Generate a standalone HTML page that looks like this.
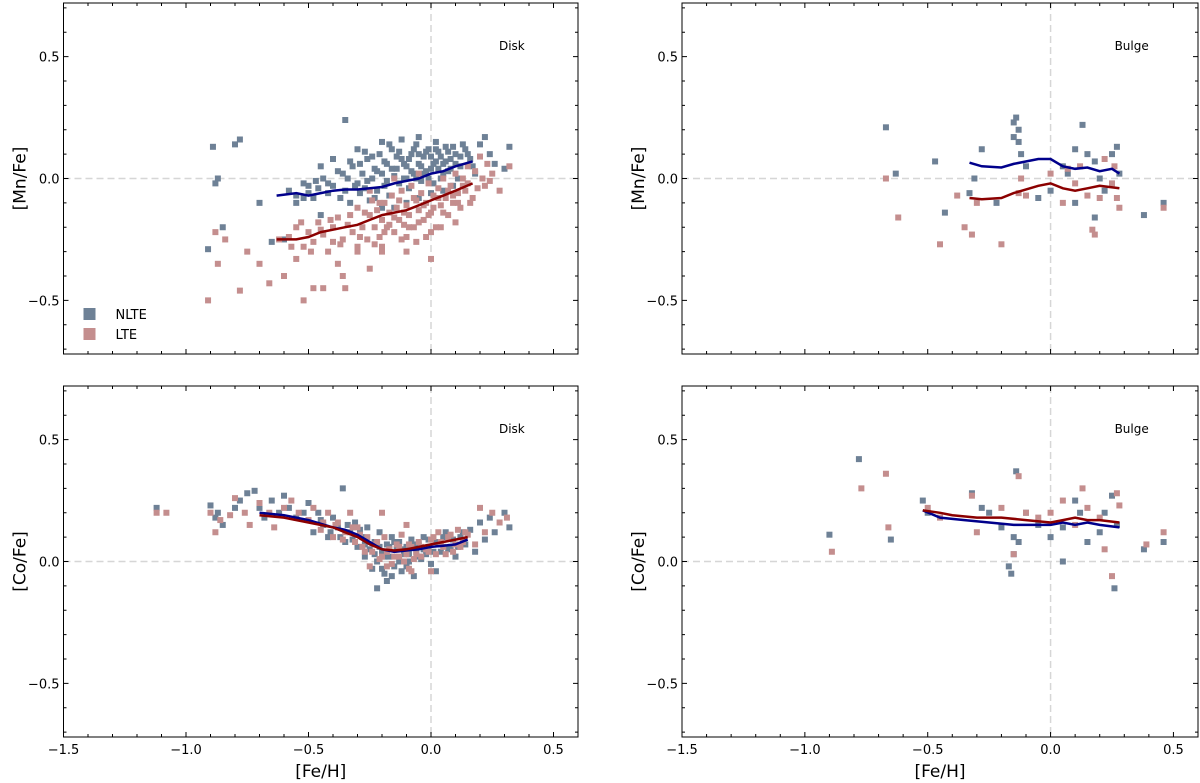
<!DOCTYPE html>
<html><head><meta charset="utf-8"><style>
body{margin:0;background:#fff;}
svg{display:block;font-family:"DejaVu Sans","Liberation Sans",sans-serif;}
</style></head><body>
<svg id="fig" width="1200" height="783" viewBox="0 0 1200 783"></svg>
<script>
// ---- data ----
const mnDiskNLTE=[-0.91,-0.29,-0.89,0.13,-0.88,-0.02,-0.87,0.0,-0.85,-0.2,-0.78,0.16,-0.8,0.14,-0.65,-0.26,-0.7,-0.1,-0.6,-0.25,-0.35,0.24,-0.55,-0.1,-0.5,-0.03,-0.45,-0.15,
-0.58,-0.05,-0.55,-0.07,-0.52,-0.02,-0.5,-0.06,-0.48,-0.08,-0.46,-0.04,-0.44,0.0,-0.42,-0.06,-0.4,-0.03,-0.38,0.03,-0.37,-0.08,-0.35,-0.05,-0.34,0.0,-0.33,-0.1,-0.32,0.05,-0.3,-0.02,-0.29,-0.06,-0.28,0.02,-0.27,-0.04,-0.26,0.08,-0.25,-0.09,-0.24,0.0,-0.23,0.04,-0.22,-0.05,-0.21,0.1,-0.2,0.02,-0.19,-0.03,-0.18,0.06,-0.17,-0.07,-0.16,0.12,-0.15,0.01,-0.14,0.04,-0.13,-0.02,-0.12,0.08,-0.11,0.0,-0.1,0.05,-0.09,-0.04,-0.08,0.1,-0.07,0.02,-0.06,0.14,-0.05,0.06,-0.04,-0.01,-0.03,0.09,-0.02,0.03,-0.01,0.12,0.0,0.04,0.01,-0.02,0.02,0.07,0.03,0.11,0.04,0.0,0.05,0.06,0.06,0.13,0.07,0.03,0.08,0.08,0.09,-0.03,0.1,0.1,0.12,0.05,0.14,0.12,0.16,0.08,0.18,0.02,0.2,0.14,0.22,0.17,0.24,0.1,0.26,0.06,0.3,0.04,0.32,0.13,-0.15,-0.12,-0.1,-0.1,-0.05,-0.08,0.0,-0.06,0.05,-0.05,-0.2,0.15,-0.12,0.16,-0.3,0.12,-0.27,0.11,-0.2,-0.12,-0.05,0.17,0.02,0.15,-0.4,0.08,-0.45,0.05,
-0.29,0.06,-0.26,-0.01,-0.24,0.09,-0.22,0.03,-0.19,0.07,-0.18,-0.01,-0.16,0.04,-0.14,0.09,-0.13,0.11,-0.11,0.06,-0.1,0.0,-0.09,0.08,-0.08,0.03,-0.07,0.12,-0.06,0.0,-0.05,0.1,-0.04,0.05,-0.03,0.02,-0.02,0.11,-0.01,0.0,0.0,0.09,0.01,0.06,0.02,0.12,0.03,0.04,0.04,0.09,0.05,0.02,0.06,0.07,0.07,0.11,0.08,0.04,0.09,0.13,0.1,0.06,0.11,0.0,0.12,0.09,0.13,0.14,0.15,0.1,0.17,0.05,-0.36,0.02,-0.42,-0.02,-0.47,-0.01,-0.52,-0.08,-0.33,0.07,-0.31,-0.03,-0.23,-0.08,-0.17,0.14];
const mnDiskLTE=[-0.91,-0.5,-0.88,-0.22,-0.87,-0.35,-0.84,-0.25,-0.78,-0.46,-0.75,-0.3,-0.7,-0.35,-0.66,-0.43,-0.62,-0.25,-0.6,-0.4,-0.55,-0.33,-0.52,-0.5,-0.48,-0.45,-0.44,-0.45,-0.36,-0.4,-0.35,-0.45,-0.38,-0.35,-0.3,-0.3,-0.25,-0.37,-0.2,-0.28,-0.1,-0.3,0.0,-0.33,-0.4,-0.26,
-0.58,-0.24,-0.55,-0.2,-0.52,-0.28,-0.5,-0.22,-0.48,-0.26,-0.46,-0.18,-0.44,-0.23,-0.42,-0.3,-0.4,-0.2,-0.38,-0.16,-0.36,-0.25,-0.34,-0.19,-0.32,-0.22,-0.3,-0.12,-0.28,-0.2,-0.26,-0.25,-0.25,-0.15,-0.24,-0.09,-0.23,-0.2,-0.22,-0.13,-0.21,-0.24,-0.2,-0.17,-0.19,-0.1,-0.18,-0.2,-0.17,-0.14,-0.16,-0.07,-0.15,-0.22,-0.14,-0.12,-0.13,-0.17,-0.12,-0.05,-0.11,-0.19,-0.1,-0.11,-0.09,-0.15,-0.08,-0.03,-0.07,-0.2,-0.06,-0.09,-0.05,-0.13,-0.04,-0.06,-0.03,-0.17,-0.02,-0.1,-0.01,-0.02,0.0,-0.14,0.01,-0.07,0.02,-0.2,0.03,-0.04,0.04,-0.11,0.05,0.0,0.06,-0.08,0.07,-0.15,0.08,-0.03,0.09,-0.1,0.1,0.02,0.11,-0.06,0.12,-0.12,0.13,0.0,0.14,-0.05,0.15,0.05,0.17,-0.08,0.18,0.03,0.2,0.09,0.22,-0.03,0.23,0.06,0.25,0.02,0.28,-0.05,0.32,0.05,-0.3,-0.28,-0.2,-0.3,-0.1,-0.24,0.0,-0.22,-0.25,-0.05,-0.15,0.0,-0.05,0.02,0.1,-0.18,
-0.57,-0.28,-0.53,-0.18,-0.49,-0.3,-0.45,-0.21,-0.41,-0.17,-0.37,-0.27,-0.33,-0.15,-0.29,-0.24,-0.27,-0.14,-0.23,-0.27,-0.21,-0.1,-0.19,-0.22,-0.17,-0.19,-0.15,-0.16,-0.13,-0.09,-0.11,-0.14,-0.09,-0.2,-0.07,-0.08,-0.05,-0.18,-0.03,-0.11,-0.01,-0.15,0.01,-0.12,0.03,-0.08,0.05,-0.14,0.07,-0.05,0.09,-0.07,0.11,-0.1,0.13,-0.03,0.15,-0.02,0.16,-0.1,0.19,-0.04,0.21,0.0,0.24,-0.01,-0.12,-0.25,-0.06,-0.26,-0.02,-0.24,0.04,-0.2];
const mnDiskLineNLTE=[-0.63,-0.07,-0.55,-0.06,-0.5,-0.07,-0.45,-0.06,-0.4,-0.05,-0.35,-0.045,-0.3,-0.045,-0.25,-0.04,-0.2,-0.035,-0.15,-0.02,-0.1,-0.01,-0.05,0.0,0,0.02,0.05,0.03,0.1,0.05,0.17,0.07];
const mnDiskLineLTE=[-0.63,-0.25,-0.55,-0.25,-0.5,-0.24,-0.45,-0.22,-0.4,-0.21,-0.35,-0.2,-0.3,-0.19,-0.25,-0.17,-0.2,-0.15,-0.15,-0.14,-0.1,-0.13,-0.05,-0.11,0,-0.09,0.05,-0.07,0.1,-0.05,0.17,-0.02];
const mnBulgeNLTE=[-0.67,0.21,-0.63,0.02,-0.47,0.07,-0.33,-0.06,-0.31,0.0,-0.28,0.12,-0.15,0.23,-0.14,0.25,-0.13,0.2,-0.13,0.15,-0.15,0.17,-0.12,0.1,-0.1,0.05,0.0,-0.05,0.05,0.05,0.07,0.02,0.1,0.12,0.13,0.22,0.15,0.1,0.18,0.07,0.2,0.0,0.22,-0.05,0.25,0.1,0.27,0.13,0.28,0.02,0.38,-0.15,0.46,-0.1,-0.05,-0.08,0.1,-0.1,0.18,-0.16,-0.22,-0.1,-0.43,-0.14];
const mnBulgeLTE=[-0.67,0.0,-0.62,-0.16,-0.45,-0.27,-0.35,-0.2,-0.32,-0.23,-0.3,-0.1,-0.2,-0.27,-0.13,-0.06,-0.1,-0.07,0.0,0.02,0.05,-0.1,0.07,0.04,0.12,0.05,0.15,-0.07,0.17,-0.21,0.18,-0.23,0.2,-0.08,0.22,0.08,0.25,-0.02,0.26,0.05,0.27,-0.08,0.28,-0.12,0.46,-0.12,-0.38,-0.07,-0.12,0.0,0.1,-0.02];
const mnBulgeLineNLTE=[-0.33,0.065,-0.28,0.05,-0.2,0.045,-0.15,0.06,-0.05,0.08,0.0,0.08,0.05,0.05,0.1,0.04,0.15,0.045,0.2,0.03,0.25,0.04,0.28,0.02];
const mnBulgeLineLTE=[-0.33,-0.08,-0.28,-0.085,-0.2,-0.08,-0.15,-0.06,-0.05,-0.03,0.0,-0.02,0.05,-0.04,0.1,-0.05,0.15,-0.04,0.2,-0.03,0.28,-0.04];
const coDiskNLTE=[-1.12,0.22,-0.9,0.23,-0.88,0.18,-0.87,0.2,-0.85,0.15,-0.8,0.22,-0.78,0.25,-0.75,0.28,-0.72,0.29,-0.7,0.22,-0.68,0.18,-0.65,0.25,-0.62,0.2,-0.6,0.27,-0.58,0.22,-0.55,0.18,-0.52,0.2,-0.5,0.24,-0.48,0.12,-0.46,0.2,-0.44,0.15,-0.42,0.1,-0.4,0.18,-0.38,0.14,-0.36,0.3,-0.35,0.08,-0.33,0.12,-0.31,0.16,-0.3,0.06,-0.28,0.1,-0.27,0.02,-0.26,0.14,-0.25,0.05,-0.24,-0.03,-0.23,0.08,-0.22,0.0,-0.21,0.12,-0.2,0.04,-0.19,-0.05,-0.18,0.07,-0.17,0.02,-0.16,0.1,-0.15,-0.02,-0.14,0.05,-0.13,0.08,-0.12,-0.04,-0.11,0.03,-0.1,0.06,-0.09,0.0,-0.08,0.09,-0.07,-0.06,-0.06,0.04,-0.05,0.07,-0.04,0.01,-0.03,0.1,-0.02,0.03,-0.01,0.06,0.0,-0.01,0.02,0.08,0.04,0.04,0.06,0.12,0.08,0.06,0.1,0.02,0.12,0.1,0.14,0.07,0.16,0.13,0.18,0.04,0.2,0.16,0.22,0.09,0.24,0.18,0.26,0.12,0.3,0.2,0.32,0.14,-0.22,-0.11,-0.18,-0.08,0.02,-0.04,
-0.45,0.17,-0.41,0.12,-0.37,0.1,-0.34,0.15,-0.32,0.09,-0.29,0.13,-0.27,0.07,-0.23,0.03,-0.21,0.06,-0.19,0.02,-0.17,0.06,-0.15,0.08,-0.13,0.0,-0.11,0.05,-0.09,0.03,-0.07,0.07,-0.05,0.02,-0.03,0.05,-0.01,0.09,0.01,0.04,0.03,0.07,0.05,0.1,0.07,0.05,0.09,0.09,0.11,0.06,0.13,0.12,-0.2,-0.03,-0.1,-0.02,-0.16,-0.06];
const coDiskLTE=[-1.12,0.2,-1.08,0.2,-0.9,0.2,-0.88,0.12,-0.86,0.17,-0.82,0.19,-0.8,0.26,-0.76,0.2,-0.74,0.15,-0.7,0.24,-0.66,0.2,-0.64,0.14,-0.6,0.22,-0.57,0.25,-0.54,0.2,-0.5,0.17,-0.48,0.22,-0.45,0.13,-0.42,0.2,-0.4,0.1,-0.38,0.16,-0.35,0.12,-0.33,0.2,-0.31,0.08,-0.3,0.14,-0.28,0.06,-0.26,0.1,-0.24,0.04,-0.22,0.08,-0.2,0.02,-0.19,0.1,-0.17,0.05,-0.16,-0.01,-0.14,0.07,-0.13,0.02,-0.12,0.11,-0.1,0.03,-0.09,-0.03,-0.08,0.06,-0.07,0.01,-0.05,0.08,-0.04,0.02,-0.02,0.05,0.0,0.09,0.02,0.03,0.03,0.12,0.05,0.06,0.07,0.1,0.09,0.04,0.11,0.13,0.13,0.08,0.15,0.11,0.18,0.07,0.2,0.22,0.22,0.12,0.25,0.2,0.28,0.16,0.31,0.18,-0.2,0.2,-0.1,0.15,0.0,-0.04,-0.25,-0.02,
-0.44,0.16,-0.39,0.15,-0.36,0.09,-0.32,0.14,-0.29,0.11,-0.27,0.04,-0.23,0.07,-0.21,0.01,-0.18,0.04,-0.15,0.02,-0.13,0.06,-0.11,0.0,-0.09,0.07,-0.06,0.03,-0.04,0.06,-0.01,0.04,0.01,0.1,0.04,0.08,0.06,0.03,0.08,0.11,0.1,0.07,0.12,0.06,0.14,0.12,-0.18,-0.02,-0.08,-0.04];
const coDiskLineNLTE=[-0.7,0.2,-0.6,0.19,-0.5,0.17,-0.4,0.14,-0.35,0.13,-0.3,0.11,-0.25,0.08,-0.2,0.05,-0.15,0.04,-0.1,0.045,-0.05,0.05,0,0.06,0.05,0.065,0.1,0.07,0.15,0.09];
const coDiskLineLTE=[-0.7,0.19,-0.6,0.18,-0.5,0.16,-0.4,0.14,-0.35,0.12,-0.3,0.1,-0.25,0.07,-0.2,0.05,-0.15,0.045,-0.1,0.05,-0.05,0.06,0,0.07,0.05,0.08,0.1,0.09,0.15,0.1];
const coBulgeNLTE=[-0.9,0.11,-0.78,0.42,-0.65,0.09,-0.52,0.25,-0.5,0.2,-0.32,0.28,-0.28,0.22,-0.25,0.2,-0.2,0.14,-0.15,0.1,-0.15,0.03,-0.14,0.37,-0.13,0.08,-0.1,0.2,-0.05,0.15,0.0,0.1,0.05,0.14,0.1,0.25,0.12,0.2,0.15,0.08,0.2,0.12,0.22,0.2,0.25,0.27,0.26,-0.11,0.27,0.15,0.38,0.05,0.46,0.08,-0.17,-0.02,-0.16,-0.05,0.05,0.0];
const coBulgeLTE=[-0.89,0.04,-0.77,0.3,-0.67,0.36,-0.66,0.14,-0.5,0.22,-0.45,0.18,-0.32,0.27,-0.3,0.12,-0.2,0.22,-0.15,0.03,-0.13,0.35,-0.1,0.2,-0.05,0.18,0.0,0.2,0.05,0.25,0.1,0.15,0.13,0.3,0.15,0.22,0.2,0.18,0.22,0.05,0.25,-0.06,0.27,0.28,0.28,0.23,0.39,0.07,0.46,0.12];
const coBulgeLineNLTE=[-0.52,0.21,-0.45,0.18,-0.35,0.17,-0.25,0.16,-0.15,0.15,-0.05,0.15,0.0,0.15,0.05,0.16,0.1,0.15,0.15,0.16,0.2,0.15,0.28,0.14];
const coBulgeLineLTE=[-0.52,0.21,-0.45,0.2,-0.4,0.19,-0.3,0.18,-0.2,0.18,-0.1,0.17,0,0.16,0.05,0.17,0.1,0.18,0.15,0.17,0.2,0.17,0.28,0.16];
const xTicks=[-1.5,-1.0,-0.5,0.0,0.5];
const xTickLabels=["−1.5","−1.0","−0.5","0.0","0.5"];
const yTicks=[-0.5,0.0,0.5];
const yTickLabels=["−0.5","0.0","0.5"];

const NS="http://www.w3.org/2000/svg";
const svg=document.getElementById('fig');
function mk(tag,attrs,parent){const e=document.createElementNS(NS,tag);for(const k in attrs)e.setAttribute(k,attrs[k]);(parent||svg).appendChild(e);return e;}

function panel(name,x0,x1,y0,y1,yLabel,title,nl,lt,lnN,lnL,showX,legend){
  const g=mk('g',{});
  
  
  const xs=v=>x0+(v+1.5)/2.1*(x1-x0);
  const ys=v=>y0+(0.72-v)/1.44*(y1-y0);
  const h=mk('line',{x1:x0,x2:x1,y1:ys(0),y2:ys(0),stroke:'#d6d6d6','stroke-width':1.5,'stroke-dasharray':'7,4'},g);
  
  
  const v=mk('line',{x1:xs(0),x2:xs(0),y1:y0,y2:y1,stroke:'#d6d6d6','stroke-width':1.5,'stroke-dasharray':'7,4'},g);
  
  
  const s=6;
  for(let i=0;i<nl.length;i+=2){
    const r=mk('rect',{x:xs(nl[i])-s/2,y:ys(nl[i+1])-s/2,width:s,height:s,fill:'#6e8196'},g);
    
    
  }
  for(let i=0;i<lt.length;i+=2){
    const r=mk('rect',{x:xs(lt[i])-s/2,y:ys(lt[i+1])-s/2,width:s,height:s,fill:'#c48e8e'},g);
    
    
  }
  function line(arr,col,nm){let d='';for(let i=0;i<arr.length;i+=2)d+=(i?'L':'M')+xs(arr[i]).toFixed(1)+','+ys(arr[i+1]).toFixed(1);
    const p=mk('path',{d:d,fill:'none',stroke:col,'stroke-width':2.5},g);
    
    }
  line(lnN,'#00008b','nlte-trend-line');
  line(lnL,'#8b0000','lte-trend-line');
  const f=mk('rect',{x:x0,y:y0,width:x1-x0,height:y1-y0,fill:'none',stroke:'#000','stroke-width':1},g);
  
  
  for(let t=-15;t<=6;t++){const X=xs(t/10);const L=(t%5===0)?5:3;
    mk('line',{x1:X,x2:X,y1:y1,y2:y1-L,stroke:'#000'},g);mk('line',{x1:X,x2:X,y1:y0,y2:y0+L,stroke:'#000'},g);}
  for(let t=-7;t<=7;t++){const Y=ys(t/10);const L=(t%5===0)?5:3;
    mk('line',{x1:x0,x2:x0+L,y1:Y,y2:Y,stroke:'#000'},g);mk('line',{x1:x1,x2:x1-L,y1:Y,y2:Y,stroke:'#000'},g);}
  yTicks.forEach((t,i)=>{const tx=mk('text',{x:x0-4,y:ys(t)+5,'text-anchor':'end','font-size':13},g);tx.textContent=yTickLabels[i];
    
    });
  if(showX){xTicks.forEach((t,i)=>{const tx=mk('text',{x:xs(t),y:y1+17,'text-anchor':'middle','font-size':13},g);tx.textContent=xTickLabels[i];
    
    });
    const xl=mk('text',{x:xs(-0.45),y:y1+40,'text-anchor':'middle','font-size':17},g);xl.textContent='[Fe/H]';
    
    }
  const yl=mk('text',{x:0,y:0,'text-anchor':'middle','font-size':17,transform:`translate(${x0-38},${(y0+y1)/2}) rotate(-90)`},g);yl.textContent=yLabel;
  
  
  const tt=mk('text',{x:xs(0.33),y:y0+47,'text-anchor':'middle','font-size':12},g);tt.textContent=title;
  
  
  if(legend){
    const a=mk('rect',{x:x0+20,y:y1-46,width:12,height:12,fill:'#6e8196'},g);
    
    
    const at=mk('text',{x:x0+52,y:y1-35,'font-size':13},g);at.textContent='NLTE';
    
    
    const b=mk('rect',{x:x0+20,y:y1-26,width:12,height:12,fill:'#c48e8e'},g);
    
    
    const bt=mk('text',{x:x0+52,y:y1-15,'font-size':13},g);bt.textContent='LTE';
    
    
  }
}
panel('mn-disk-panel',63.5,578,3,354,'[Mn/Fe]','Disk',mnDiskNLTE,mnDiskLTE,mnDiskLineNLTE,mnDiskLineLTE,false,true);
panel('mn-bulge-panel',682,1198,3,354,'[Mn/Fe]','Bulge',mnBulgeNLTE,mnBulgeLTE,mnBulgeLineNLTE,mnBulgeLineLTE,false,false);
panel('co-disk-panel',63.5,578,386,737,'[Co/Fe]','Disk',coDiskNLTE,coDiskLTE,coDiskLineNLTE,coDiskLineLTE,true,false);
panel('co-bulge-panel',682,1198,386,737,'[Co/Fe]','Bulge',coBulgeNLTE,coBulgeLTE,coBulgeLineNLTE,coBulgeLineLTE,true,false);
</script>
</body></html>
